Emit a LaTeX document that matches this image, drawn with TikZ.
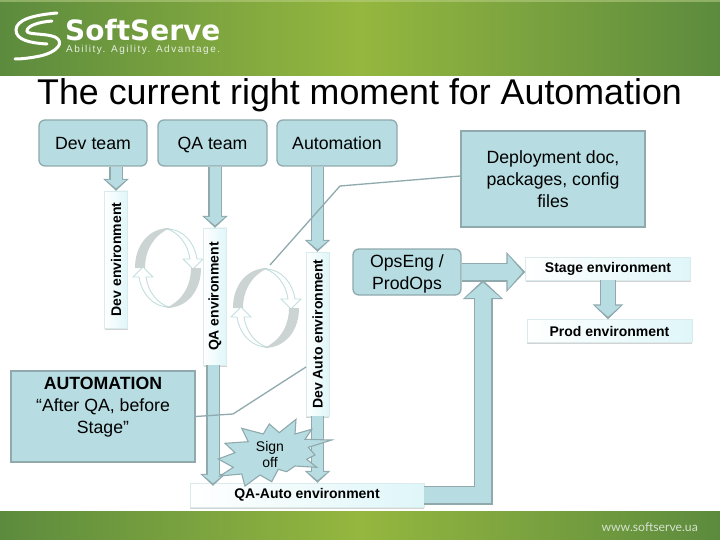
\documentclass[tikz,border=0pt]{standalone}
\usepackage{fontspec}
\setmainfont{Liberation Sans}
\newfontfamily\brandfont{DejaVu Sans}
\newfontfamily\tagfont{Liberation Sans}[LetterSpace=15]
\newfontfamily\webfont{Lato}
\usetikzlibrary{arrows.meta,shadows}
\definecolor{boxfill}{HTML}{B7DDE2}
\definecolor{boxedge}{HTML}{8FA9AD}
\definecolor{bandgreen}{HTML}{5C8B3E}
\definecolor{bandlight}{HTML}{95B73F}
\definecolor{envfill}{HTML}{DFF6F9}
\definecolor{swirlgrey}{HTML}{CBD3D3}
\definecolor{swirledge}{HTML}{C3DEDF}

\begin{document}
\begin{tikzpicture}[x=1pt,y=-1pt]
        \tikzset{team/.style = {draw=boxedge,line width=1.3pt,fill=boxfill,rounded corners=6pt,inner sep=0pt,text height=17pt,text depth=3pt,font=\fontsize{17.7}{20}\selectfont}};
        \tikzset{note/.style = {draw=boxedge,line width=1.3pt,fill=boxfill,inner sep=0pt,align=center,font=\fontsize{17.7}{21.7}\selectfont}};
        \tikzset{env/.style = {draw=swirledge!60,line width=.4pt,left color=white,right color=envfill,inner sep=0pt,minimum height=23pt,font=\bfseries\fontsize{14}{16}\selectfont,drop shadow={opacity=.35,shadow xshift=0pt,shadow yshift=-1.5pt}}};
        \tikzset{smallarrow/.style = {draw=boxedge,line width=13.4pt,-{Triangle[width=25pt,length=12pt]},postaction={draw=boxfill,line width=11pt,shorten >=2.6pt,-{Triangle[width=20pt,length=8.4pt]}}}};
        \tikzset{midarrow/.style = {draw=boxedge,line width=16pt,-{Triangle[width=30pt,length=15pt]},postaction={draw=boxfill,line width=13.6pt,shorten >=2.6pt,-{Triangle[width=25pt,length=11.2pt]}}}};
        \tikzset{bigarrow/.style = {draw=boxedge,line width=19pt,-{Triangle[width=39pt,length=19pt]},postaction={draw=boxfill,line width=16.6pt,shorten >=2.6pt,-{Triangle[width=34pt,length=15.2pt]}}}};
        \tikzset{callout/.style = {draw=boxedge,line width=1.3pt}};
        \tikzset{cyclepair/.pic = {
            \foreach \turn in {0,180} {
                \begin{scope}[rotate=\turn]
                    \filldraw[draw=swirledge,fill=white,line width=.9pt] (-1,-39) .. controls (10,-36) and (20,-24) .. (22,-9) -- (15,-9) -- (25,1) -- (35,-9) -- (29,-9) .. controls (27,-24) and (16,-39) .. (-1,-39) -- cycle;
                    \fill[swirlgrey] (-33,0) .. controls (-33,-22) and (-20,-40) .. (2,-40) .. controls (-12,-34) and (-23,-20) .. (-23,0) -- cycle;
                \end{scope}
            }
        }};
        \useasboundingbox (0,0) rectangle (720,540);
        % bands
        \shade[left color=bandgreen,right color=bandgreen,middle color=bandlight] (0,0) rectangle (720,76);
        \fill[bandlight!60!white,opacity=.5] (0,0) rectangle (720,2);
        \shade[left color=bandgreen,right color=bandgreen,middle color=bandlight] (0,511) rectangle (720,540);
        % logo
        \draw[white,line width=3pt,line cap=round] (57,13) .. controls (33,15) and (16,20) .. (16,30) .. controls (16,40) and (30,43) .. (47,44);
        \draw[white,line width=3pt,line cap=round] (52,21) .. controls (38,22) and (27,26) .. (27,31) .. controls (27,35) and (45,33) .. (55,37) .. controls (65,42) and (58,52) .. (40,56) .. controls (30,58) and (22,59) .. (15,59);
        \node[anchor=base west,inner sep=0pt,text=white] (brand) at (65,41) {\brandfont\bfseries\fontsize{28}{30}\selectfont SoftServe};
        \node[anchor=base west,inner sep=0pt,text=white!85!bandgreen] (tagline) at (66,53) {\tagfont\fontsize{10}{11}\selectfont Ability. Agility. Advantage.};
        \node[anchor=base east,inner sep=0pt,text=white!75!bandgreen] (website) at (698,531) {\webfont\fontsize{12.2}{15}\selectfont www.softserve.ua};
        \node[anchor=base west,inner sep=0pt] (title) at (37,105) {\fontsize{35.8}{40}\selectfont The current right moment for Automation};
        % cycles
        \pic at (168,268) {cyclepair};
        \pic at (266,308) {cyclepair};
        % boxes
        \node[team,minimum width=108pt,minimum height=46pt] (devteam) at (93,143) {Dev team};
        \node[team,minimum width=109pt,minimum height=46pt] (qateam) at (212.5,143) {QA team};
        \node[team,minimum width=120pt,minimum height=46pt] (autoteam) at (337,143) {Automation};
        \node[note,rounded corners=6pt,minimum width=108pt,minimum height=46pt] (opseng) at (407,272) {\rule{0pt}{17pt}OpsEng /\\ProdOps};
        \node[note,minimum width=184pt,minimum height=96pt] (deploy) at (553,179) {Deployment doc,\\packages, config\\files};
        \node[note,minimum width=184pt,minimum height=91pt] (automation) at (103,416.5) {\rule{0pt}{19pt}\textbf{AUTOMATION}\\“After QA, before\\Stage”\\[7pt]};
        \node[env,rotate=90,minimum width=137pt] (devenv) at (116,259.5) {Dev environment};
        \node[env,rotate=90,minimum width=137pt] (qaenv) at (215,296.5) {QA environment};
        \node[env,rotate=90,minimum width=164pt] (autoenv) at (317.5,334) {Dev Auto environment};
        \node[env,minimum width=165pt] (stage) at (608,268.5) {Stage environment};
        \node[env,minimum width=165pt] (prod) at (609.5,331) {Prod environment};
        \node[env,minimum width=234pt,minimum height=24pt] (qaauto) at (307,495) {QA-Auto environment};
        \coordinate (opsjoin) at (483,280);
        \coordinate (deploybend) at (340,186);
        \coordinate (deploytip) at (270,265);
        \coordinate (autobend) at (233,414);
        \coordinate (autotip) at (306,367);
        % block arrows
        \draw[smallarrow] (devenv.east |- devteam.south) to (devenv.east);
        \draw[smallarrow] (qaenv.east |- qateam.south) to (qaenv.east);
        \draw[smallarrow] (autoenv.east |- autoteam.south) to (autoenv.east);
        \draw[smallarrow] ([xshift=-2pt]qaenv.west) to ([xshift=-2pt,yshift=-3pt]qaenv.west |- qaauto.north);
        \draw[smallarrow] (autoenv.west) to (autoenv.west |- qaauto.north);
        \draw[bigarrow] (opseng.east) to (opseng.east -| stage.west);
        \draw[midarrow] (stage.south) to (stage.south |- prod.north);
        \draw[bigarrow] (qaauto.east) -| (opsjoin);
        % callouts
        \draw[callout] ([yshift=3pt]deploy.west) -- (deploybend) -- (deploytip);
        \draw[callout] (automation.east) -- (autobend) -- (autotip);
        % star
        \filldraw[draw=boxedge,fill=boxfill,line width=1.1pt] (225,443.3) -- (248.3,441.7) -- (241.7,428.3) -- (263.3,434) -- (269.3,424) -- (279.3,432.7) -- (296,419.3) -- (295,434) -- (311.7,429.3) -- (305,439.3) -- (331.7,440) -- (308.3,447.3) -- (315,455) -- (306.7,459.3) -- (316.7,467.3) -- (295,466) -- (286.7,471.7) -- (278.3,469.3) -- (271.7,481.7) -- (260,475) -- (245,486) -- (241.7,474) -- (220,476) -- (233.3,467.3) -- (218.3,459) -- (235,452.7) -- cycle;
        \node[align=center,inner sep=0pt,font=\fontsize{14}{16}\selectfont] (signoff) at (270,454) {Sign\\off};
    \end{tikzpicture}
\end{document}
